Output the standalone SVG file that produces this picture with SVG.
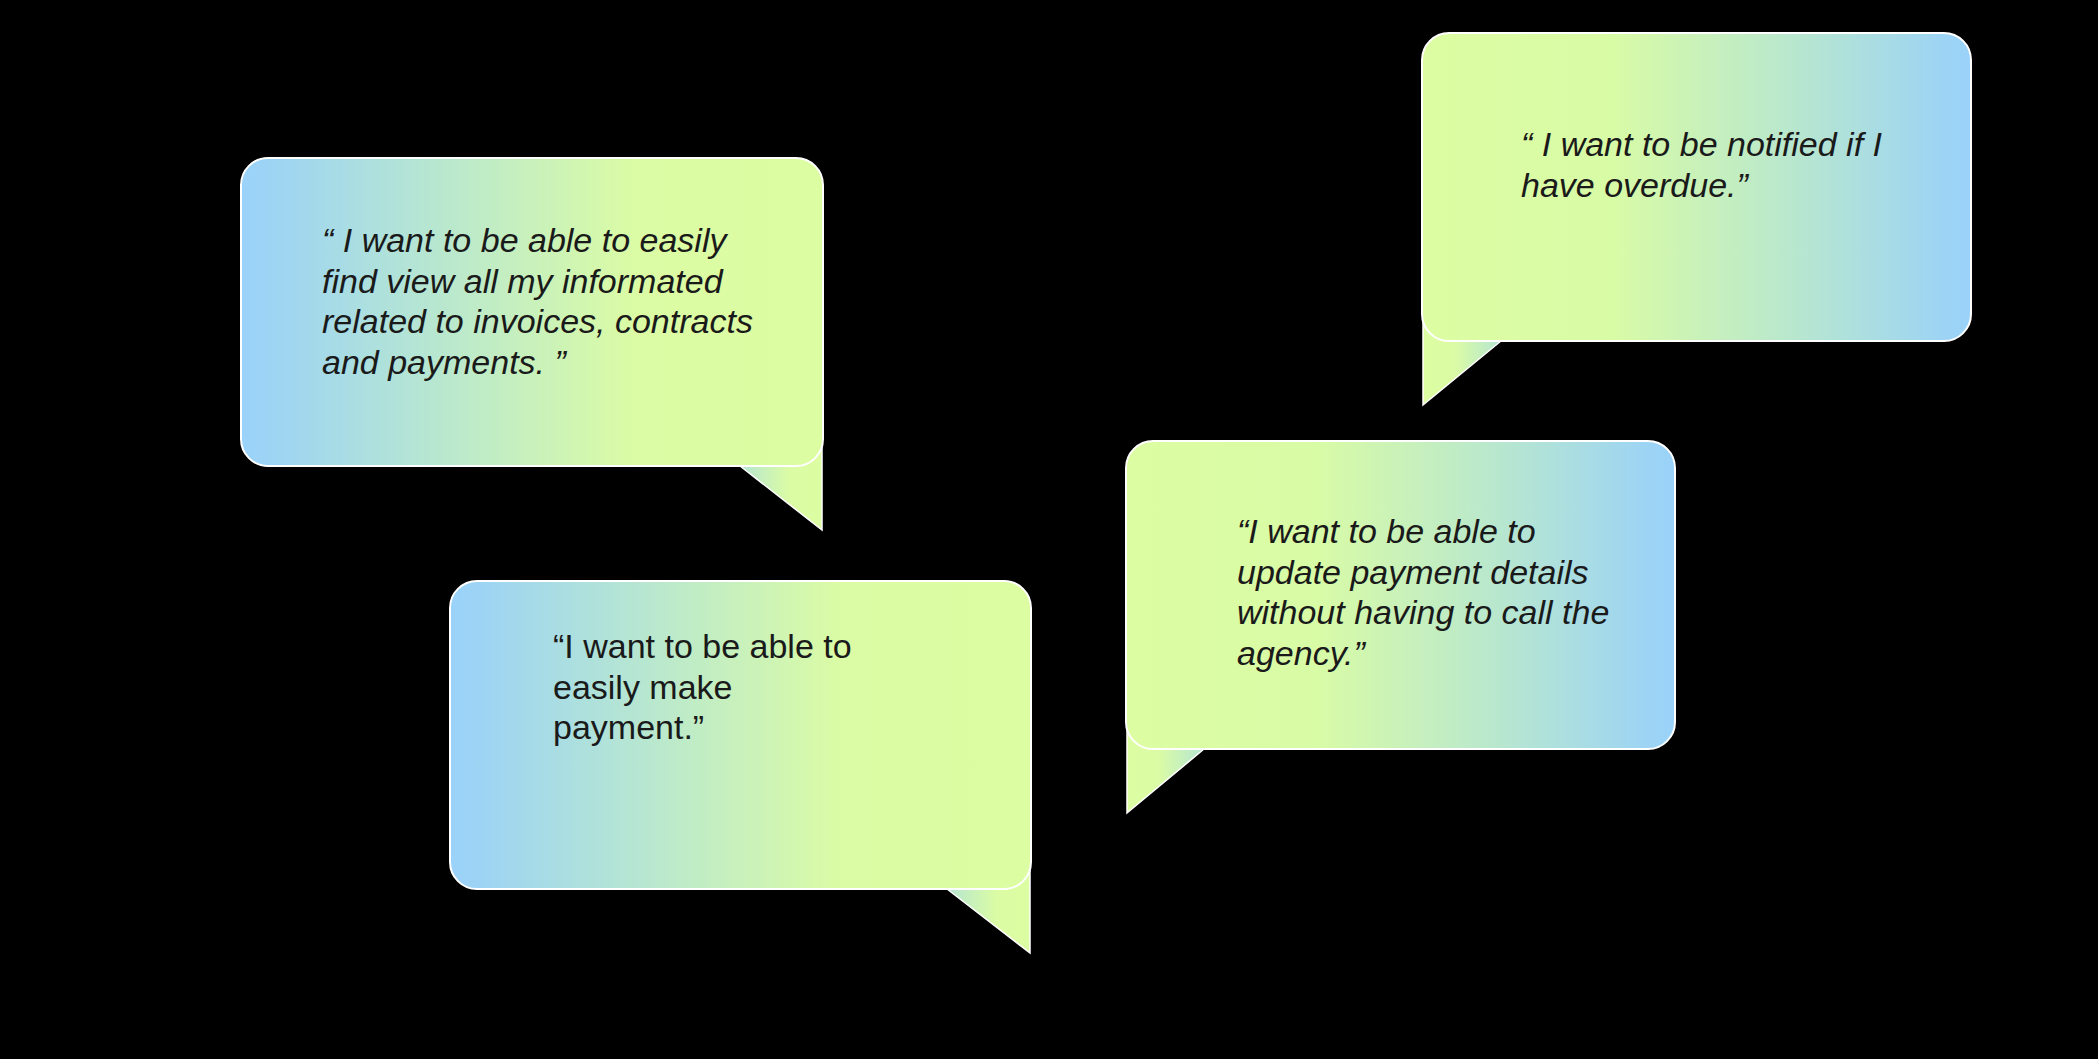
<svg xmlns="http://www.w3.org/2000/svg" width="2098" height="1059" viewBox="0 0 2098 1059">
  <defs>
    <linearGradient id="gBlueGreen" x1="0" y1="0" x2="1" y2="0">
      <stop offset="0" stop-color="#9ad2fa"/>
      <stop offset="0.05" stop-color="#9dd4f4"/>
      <stop offset="0.32" stop-color="#b6e6d2"/>
      <stop offset="0.68" stop-color="#dbfca4"/>
      <stop offset="1" stop-color="#ddfda2"/>
    </linearGradient>
    <linearGradient id="gGreenBlue" x1="0" y1="0" x2="1" y2="0">
      <stop offset="0" stop-color="#ddfda2"/>
      <stop offset="0.35" stop-color="#d8fba6"/>
      <stop offset="0.68" stop-color="#b8e7cf"/>
      <stop offset="0.95" stop-color="#9dd4f4"/>
      <stop offset="1" stop-color="#9ad2fa"/>
    </linearGradient>
    <linearGradient id="gTailR" x1="0" y1="0" x2="1" y2="0">
      <stop offset="0" stop-color="#b5e5d2"/>
      <stop offset="0.6" stop-color="#dbfca4"/>
      <stop offset="1" stop-color="#ddfda2"/>
    </linearGradient>
    <linearGradient id="gTailL" x1="0" y1="0" x2="1" y2="0">
      <stop offset="0" stop-color="#ddfda2"/>
      <stop offset="0.4" stop-color="#dbfca4"/>
      <stop offset="1" stop-color="#b5e5d2"/>
    </linearGradient>
  </defs>
  <style>
    .box { stroke: #ffffff; stroke-width: 2; }
    .tail { stroke: #ffffff; stroke-width: 1.5; stroke-linejoin: miter; }
    .txt { font-family: "Liberation Sans", Arial, Helvetica, sans-serif; font-size: 34px; fill: #1a1a1a; }
    .it { font-style: italic; }
  </style>
  <rect x="0" y="0" width="2098" height="1059" fill="#000000"/>

  <g id="bubble-info">
    <polygon class="tail" fill="url(#gTailR)" points="740,440 740,466 822,530 822,430"/>
    <rect class="box" x="241" y="158" width="582" height="308" rx="27" fill="url(#gBlueGreen)"/>
    <text class="txt it" x="322">
      <tspan x="322" y="252">“ I want to be able to easily</tspan>
      <tspan x="322" y="292.5">find view all my informated</tspan>
      <tspan x="322" y="333">related to invoices, contracts</tspan>
      <tspan x="322" y="373.5">and payments. ”</tspan>
    </text>
  </g>

  <g id="bubble-payment">
    <polygon class="tail" fill="url(#gTailR)" points="947,860 947,889 1030,953 1030,850"/>
    <rect class="box" x="450" y="581" width="581" height="308" rx="27" fill="url(#gBlueGreen)"/>
    <text class="txt" x="553">
      <tspan x="553" y="658">“I want to be able to</tspan>
      <tspan x="553" y="698.5">easily make</tspan>
      <tspan x="553" y="739">payment.”</tspan>
    </text>
  </g>

  <g id="bubble-update">
    <polygon class="tail" fill="url(#gTailL)" points="1204,720 1204,749 1127,813 1127,700"/>
    <rect class="box" x="1126" y="441" width="549" height="308" rx="27" fill="url(#gGreenBlue)"/>
    <text class="txt it" x="1237">
      <tspan x="1237" y="543">“I want to be able to</tspan>
      <tspan x="1237" y="583.5">update payment details</tspan>
      <tspan x="1237" y="624">without having to call the</tspan>
      <tspan x="1237" y="664.5">agency.”</tspan>
    </text>
  </g>

  <g id="bubble-notify">
    <polygon class="tail" fill="url(#gTailL)" points="1501,310 1501,341 1423,405 1423,300"/>
    <rect class="box" x="1422" y="33" width="549" height="308" rx="27" fill="url(#gGreenBlue)"/>
    <text class="txt it" x="1521">
      <tspan x="1521" y="156">“ I want to be notified if I</tspan>
      <tspan x="1521" y="196.5">have overdue.”</tspan>
    </text>
  </g>

  <g id="connectors"/>
</svg>
